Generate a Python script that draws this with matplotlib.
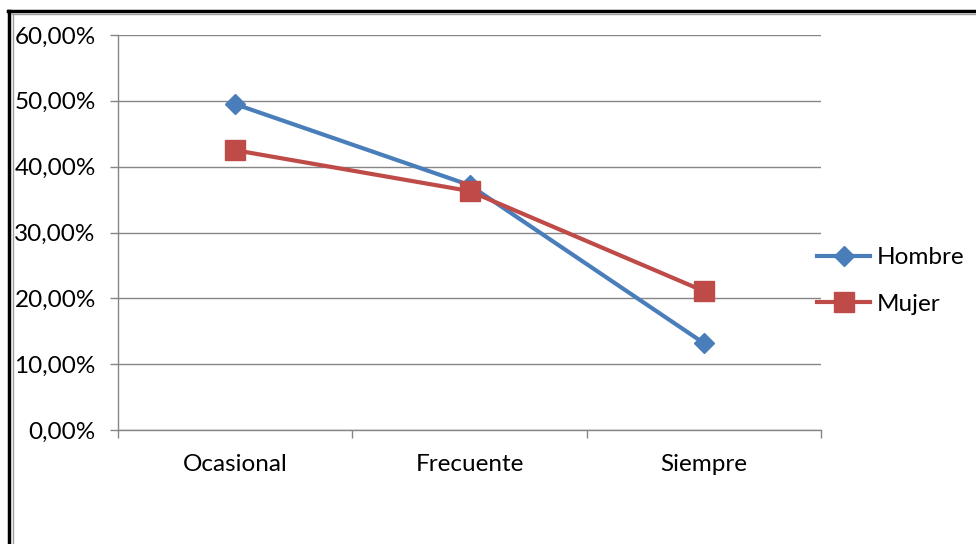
import matplotlib
matplotlib.use("Agg")
import matplotlib.pyplot as plt
from matplotlib.lines import Line2D
from matplotlib.ticker import FixedLocator, FuncFormatter

categories = ["Ocasional", "Frecuente", "Siempre"]
hombre = [49.5, 37.2, 13.2]
mujer = [42.5, 36.3, 21.1]
y_ticks = [0, 10, 20, 30, 40, 50, 60]

plt.rcParams['font.family'] = ['Lato', 'DejaVu Sans']
FS = 17.5

W, H = 976, 544
fig = plt.figure(figsize=(W / 100, H / 100), dpi=100)
fig.patch.set_facecolor("white")

# plot area in pixel coordinates
x0, x1 = 118, 821
y_top, y_bot = 35, 430
ax = fig.add_axes([x0 / W, 1 - y_bot / H, (x1 - x0) / W, (y_bot - y_top) / H])

grid_c = "#868686"
xs = list(range(len(categories)))
ax.plot(xs, hombre, color="#4A7EBB", lw=3, marker="D", ms=10,
        mec="#4A7EBB", mfc="#4A7EBB", label="Hombre", zorder=3)
ax.plot(xs, mujer, color="#BE4B48", lw=3, marker="s", ms=14,
        mec="#BE4B48", mfc="#BE4B48", label="Mujer", zorder=4)

ax.set_xlim(-0.5, len(categories) - 0.5)
ax.set_ylim(0, 60)
ax.yaxis.set_major_locator(FixedLocator(y_ticks))
ax.yaxis.set_major_formatter(FuncFormatter(lambda v, p: f"{v:.2f}%".replace(".", ",")))
ax.grid(axis="y", color=grid_c, lw=1)
ax.set_axisbelow(True)

ax.set_xticks(xs)
ax.set_xticklabels(categories)
ax.xaxis.set_minor_locator(FixedLocator([i - 0.5 for i in range(len(categories) + 1)]))
ax.tick_params(axis="x", which="major", length=0, pad=17, labelsize=FS, colors="#000000")
ax.tick_params(axis="x", which="minor", length=6, color=grid_c, width=1, direction="out")
ax.tick_params(axis="y", length=6, color=grid_c, width=1, labelsize=FS, pad=10)

for s in ["top", "right"]:
    ax.spines[s].set_visible(False)
for s in ["left", "bottom"]:
    ax.spines[s].set_color(grid_c)
    ax.spines[s].set_linewidth(1)

leg = ax.legend(loc="center left", bbox_to_anchor=(817 / W, 1 - 281 / H),
                bbox_transform=fig.transFigure, frameon=False, fontsize=FS,
                handlelength=2.2, handletextpad=0.25, labelspacing=1.05,
                borderpad=0, borderaxespad=0)

# chart border
def fline(xa, ya, xb, yb, **kw):
    fig.add_artist(Line2D([xa / W, xb / W], [1 - ya / H, 1 - yb / H], **kw))

fline(8, 11, W, 11, color="black", lw=2.5)
fline(9, 11, 9, H, color="black", lw=2.5)
fline(12, 14, W, 14, color="#a0a0a0", lw=1)
fline(13, 14, 13, H, color="#a0a0a0", lw=1)

fig.savefig("out.png", dpi=100)
